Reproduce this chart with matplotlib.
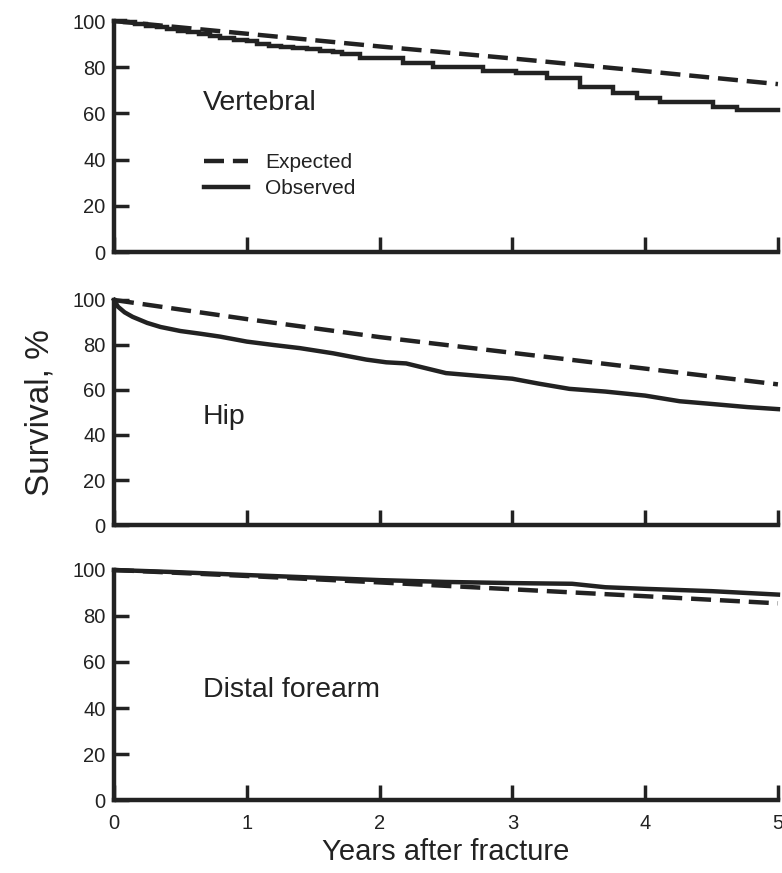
import matplotlib
matplotlib.use("Agg")
import matplotlib.pyplot as plt

plt.rcParams["font.family"] = ["Liberation Sans", "DejaVu Sans"]

INK = "#222222"

# years after fracture / survival (%)
vert_exp_x = [0, 1, 2, 3, 4, 5]
vert_exp_y = [100, 94.5, 89, 83.8, 78.3, 72.7]
vert_obs_x = [0, 0.08, 0.16, 0.24, 0.32, 0.4, 0.48, 0.56, 0.64, 0.72, 0.8, 0.9,
              1.0, 1.08, 1.17, 1.26, 1.35, 1.45, 1.55, 1.65, 1.72, 1.85,
              2.18, 2.4, 2.78, 3.03, 3.26, 3.51, 3.76, 3.94, 4.11, 4.51, 4.69, 5.0]
vert_obs_y = [100, 99.4, 98.7, 98, 97.4, 96.6, 95.9, 95.1, 94.3, 93.6, 92.8, 92,
              91.2, 90.2, 89.3, 88.8, 88.2, 87.7, 87.2, 86.4, 85.6, 84.2,
              81.7, 80.2, 78.2, 77.4, 75.2, 71.6, 68.7, 66.5, 65, 62.9, 61.5, 61.5]

hip_exp_x = [0, 1, 2, 3, 4, 5]
hip_exp_y = [100, 91.5, 83.5, 76.5, 69.5, 62.5]
hip_obs_x = [0, 0.03, 0.08, 0.14, 0.25, 0.35, 0.5, 0.65, 0.8, 1.0, 1.2, 1.4, 1.65,
             1.9, 2.05, 2.2, 2.5, 2.8, 3.0, 3.2, 3.43, 3.7, 4.0, 4.26, 4.5, 4.77, 5.0]
hip_obs_y = [100, 97, 94.5, 92.5, 89.8, 88, 86.2, 85, 83.7, 81.5, 80, 78.6, 76.3,
             73.5, 72.3, 71.8, 67.5, 66, 65, 62.8, 60.5, 59.3, 57.5, 55, 53.8, 52.4, 51.5]

fa_exp_x = [0, 1, 2, 3, 4, 5]
fa_exp_y = [100, 97.4, 94.6, 91.6, 88.6, 85.5]
fa_obs_x = [0, 0.5, 1.0, 1.5, 2.0, 2.5, 3.0, 3.45, 3.7, 4.0, 4.5, 5.0]
fa_obs_y = [100, 99, 97.8, 96.7, 95.6, 94.8, 94.3, 94, 92.5, 91.8, 90.8, 89.3]

panels = [
    ("Vertebral", vert_exp_x, vert_exp_y, vert_obs_x, vert_obs_y, "steps-post"),
    ("Hip", hip_exp_x, hip_exp_y, hip_obs_x, hip_obs_y, "default"),
    ("Distal forearm", fa_exp_x, fa_exp_y, fa_obs_x, fa_obs_y, "default"),
]

# axes rectangles in figure fractions (left, bottom, width, height)
rects = [
    (0.1458, 0.7113, 0.849, 0.2646),
    (0.1458, 0.3986, 0.849, 0.2578),
    (0.1458, 0.0836, 0.849, 0.2635),
]

fig = plt.figure(figsize=(7.82, 8.73), dpi=100)

for i, (name, ex, ey, ox, oy, ds) in enumerate(panels):
    ax = fig.add_axes(rects[i])
    ax.plot(ex, ey, color=INK, lw=3.2, dashes=(4.5, 2.0), clip_on=False,
            label="Expected")
    ax.plot(ox, oy, color=INK, lw=3.2, drawstyle=ds, clip_on=False,
            solid_joinstyle="miter", label="Observed")
    ax.set_xlim(0, 5)
    ax.set_ylim(0, 100)
    ax.set_xticks([0, 1, 2, 3, 4, 5])
    ax.set_yticks([0, 20, 40, 60, 80, 100])
    for s in ("top", "right"):
        ax.spines[s].set_visible(False)
    for s in ("left", "bottom"):
        ax.spines[s].set_linewidth(3.2)
        ax.spines[s].set_color(INK)
        ax.spines[s].set_capstyle("projecting")
    ax.tick_params(direction="in", length=11, width=2.5, color=INK,
                   labelsize=14.5, labelcolor=INK)
    ax.tick_params(axis="y", pad=6)
    ax.tick_params(axis="x", pad=10)
    if i < 2:
        ax.tick_params(axis="x", labelbottom=False)
    ax.text(0.134, 0.645 if i == 0 else 0.48, name, transform=ax.transAxes,
            fontsize=20.5, color=INK, va="center", ha="left")
    if i == 0:
        ax.legend(loc="center left", bbox_to_anchor=(0.108, 0.33), frameon=False,
                  handlelength=2.1, handletextpad=0.8, labelspacing=0.35,
                  fontsize=15, labelcolor=INK)
    if i == 1:
        ax.set_ylabel("Survival, %", fontsize=24, color=INK, labelpad=12)
    if i == 2:
        ax.set_xlabel("Years after fracture", fontsize=21, color=INK, labelpad=4)

fig.savefig("out.png", dpi=100, facecolor="white")
